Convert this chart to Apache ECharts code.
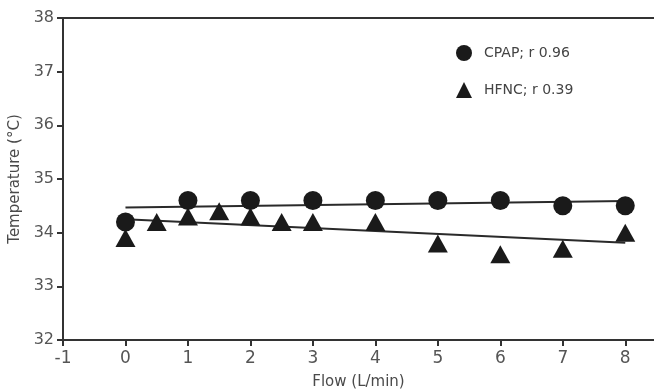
<!DOCTYPE html>
<html lang="en">
<head>
    <meta charset="UTF-8">
    <title>Temperature vs Flow</title>
    <style>
        html, body { margin: 0; padding: 0; background: #fff; }
        #chart { width: 654px; height: 390px; }
    </style>
</head>
<body>
    <div id="chart"></div>
    <script src="https://cdn.jsdelivr.net/npm/echarts@6/dist/echarts.min.js"></script>
    <script type="text/javascript">
        // data
        var cpapFlow = [0, 1, 2, 3, 4, 5, 6, 7, 8]
        var cpapTemp = [34.2, 34.6, 34.6, 34.6, 34.6, 34.6, 34.6, 34.5, 34.5]
        var hfncFlow = [0, 0.5, 1, 1.5, 2, 2.5, 3, 4, 5, 6, 7, 8]
        var hfncTemp = [33.9, 34.2, 34.3, 34.4, 34.3, 34.2, 34.2, 34.2, 33.8, 33.6, 33.7, 34.0]
        // fitted lines, ends at flow 0 and 8
        var fitFlow = [0, 8]
        var cpapFit = [34.47, 34.59]
        var hfncFit = [34.25, 33.81]
        var xTicks = [-1, 0, 1, 2, 3, 4, 5, 6, 7, 8]
        var names = ['CPAP; r 0.96', 'HFNC; r 0.39']

        var font = 'DejaVu Sans'
        var ink = '#1a1a1a'

        function pairs(xs, ys) {
            return xs.map((x, i) => [x, ys[i]])
        }

        var chart = echarts.init(document.getElementById('chart'))
        var option = {
            animation: false,
            grid: { left: 63, right: 0, top: 18, bottom: 50, outerBoundsMode: 'none', containLabel: false },
            legend: {
                orient: 'vertical',
                left: 451,
                top: 40,
                itemWidth: 16,
                itemHeight: 16,
                itemGap: 21,
                data: [
                    { name: names[0], icon: 'circle' },
                    { name: names[1], icon: 'triangle' }
                ],
                textStyle: { fontFamily: font, fontSize: 14, color: '#444', padding: [0, 0, 0, 7] }
            },
            xAxis: [{
                type: 'value',
                min: -1,
                max: 8.46,
                name: 'Flow (L/min)',
                nameLocation: 'middle',
                nameGap: 35,
                nameTextStyle: { fontFamily: font, fontSize: 15, color: '#4a4a4a' },
                axisLine: { onZero: false, lineStyle: { color: '#333', width: 2 } },
                axisTick: { customValues: xTicks, length: 6, lineStyle: { color: '#333', width: 2 } },
                axisLabel: { customValues: xTicks, margin: 10, fontFamily: font, fontSize: 17, color: '#555' },
                splitLine: { show: false }
            }, {
                // top frame line
                type: 'value',
                position: 'top',
                min: -1,
                max: 8.46,
                axisLine: { onZero: false, lineStyle: { color: '#333', width: 2 } },
                axisTick: { show: false },
                axisLabel: { show: false },
                splitLine: { show: false }
            }],
            yAxis: {
                type: 'value',
                min: 32,
                max: 38,
                interval: 1,
                name: 'Temperature (°C)',
                nameLocation: 'middle',
                nameGap: 34,
                nameTextStyle: { fontFamily: font, fontSize: 15, color: '#4a4a4a' },
                axisLine: { show: true, onZero: false, lineStyle: { color: '#333', width: 2 } },
                axisTick: { show: true, length: 6, lineStyle: { color: '#333', width: 2 } },
                axisLabel: { margin: 9, fontFamily: font, fontSize: 16, color: '#555' },
                splitLine: { show: false }
            },
            series: [{
                name: 'cpap fit',
                type: 'line',
                data: pairs(fitFlow, cpapFit),
                symbol: 'none',
                lineStyle: { color: '#2a2a2a', width: 2 },
                z: 1
            }, {
                name: 'hfnc fit',
                type: 'line',
                data: pairs(fitFlow, hfncFit),
                symbol: 'none',
                lineStyle: { color: '#2a2a2a', width: 2 },
                z: 1
            }, {
                name: names[1],
                type: 'scatter',
                data: pairs(hfncFlow, hfncTemp),
                symbol: 'triangle',
                symbolSize: [20, 18],
                itemStyle: { color: ink, opacity: 1 },
                z: 2
            }, {
                name: names[0],
                type: 'scatter',
                data: pairs(cpapFlow, cpapTemp),
                symbol: 'circle',
                symbolSize: 19,
                itemStyle: { color: ink, opacity: 1 },
                z: 3
            }]
        }
        chart.setOption(option)
    </script>
</body>
</html>
